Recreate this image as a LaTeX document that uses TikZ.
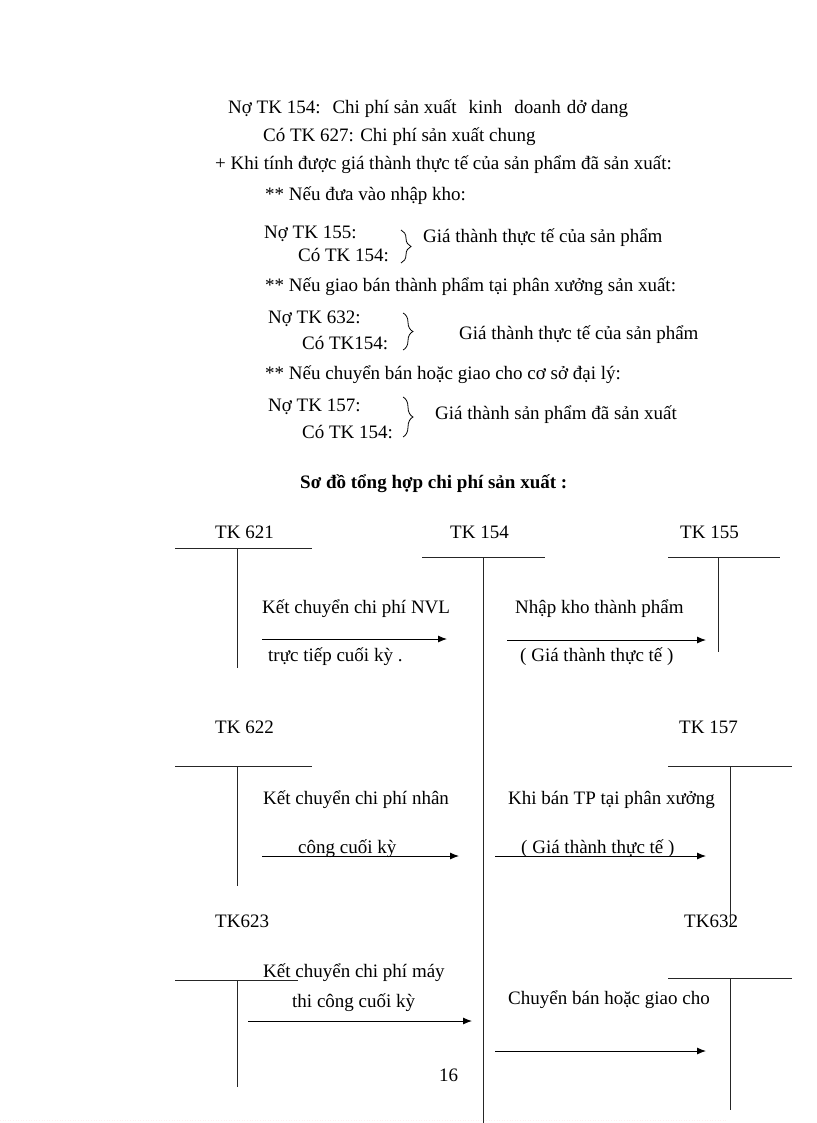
\documentclass[tikz,border=0pt]{standalone}
\usepackage{fontspec}
\setmainfont{Liberation Serif}
\usetikzlibrary{arrows.meta,decorations.pathreplacing}
\tikzstyle{txt}=[anchor=base west, inner sep=0pt, font=\fontsize{19}{22}\selectfont]
\tikzstyle{tline}=[draw=black!85, line width=0.9pt]
\tikzstyle{flow}=[draw=black, line width=0.9pt, -{Latex[length=9pt,width=7pt]}]
\tikzstyle{brc}=[draw=black, line width=0.8pt, decorate, decoration={brace,amplitude=10pt,aspect=0.5}]

\begin{document}
\begin{tikzpicture}[x=1pt,y=-1pt]
\useasboundingbox (0,0) rectangle (816,1123);
% dinh khoan
\node[txt](l1) at (228,114) {Nợ TK 154:\hspace{12pt}Chi phí sản xuất\hspace{12pt}kinh\hspace{12pt}doanh\hspace{6pt}dở dang};
\node[txt](l2) at (263,142) {Có TK 627: Chi phí sản xuất chung};
\node[txt](l3) at (215,170) {+ Khi tính được giá thành thực tế của sản phẩm đã sản xuất:};
\node[txt](l4) at (265,201) {** Nếu đưa vào nhập kho:};
\node[txt](no155) at (264,239) {Nợ TK 155:};
\node[txt](co154a) at (298,261) {Có TK 154:};
\node[txt](gia1) at (423,243) {Giá thành thực tế của sản phẩm};
\node[txt](l7) at (265,291) {** Nếu giao bán thành phẩm tại phân xưởng sản xuất:};
\node[txt](no632) at (268,323) {Nợ TK 632:};
\node[txt](co154b) at (302,349) {Có TK154:};
\node[txt](gia2) at (459,339) {Giá thành thực tế của sản phẩm};
\node[txt](l8) at (265,379) {** Nếu chuyển bán hoặc giao cho cơ sở đại lý:};
\node[txt](no157) at (268,411) {Nợ TK 157:};
\node[txt](co154c) at (302,438) {Có TK 154:};
\node[txt](gia3) at (435,419) {Giá thành sản phẩm đã sản xuất};
\coordinate (b1t) at (401,230); \coordinate (b1b) at (401,263);
\coordinate (b2t) at (403,313); \coordinate (b2b) at (403,350);
\coordinate (b3t) at (403,397); \coordinate (b3b) at (403,437);
\draw[brc] (b1t) -- (b1b);
\draw[brc] (b2t) -- (b2b);
\draw[brc] (b3t) -- (b3b);
\node[txt, font=\fontsize{19}{22}\selectfont\bfseries](title) at (300,488) {Sơ đồ tổng hợp chi phí sản xuất :};

% tai khoan chu T
\node[txt](tk621) at (215,538) {TK 621};
\node[txt](tk154) at (450,538) {TK 154};
\node[txt](tk155) at (680,538) {TK 155};
\node[txt](tk622) at (215,733) {TK 622};
\node[txt](tk157) at (679,733) {TK 157};
\node[txt](tk623) at (215,927) {TK623};
\node[txt](tk632) at (684,927) {TK632};
\draw[tline] (175,548) -- (312,548) (237,548) -- (237,668);
\draw[tline] (422,557) -- (545,557) (483,557) -- (483,1123);
\draw[tline] (668,557) -- (780,557) (718,557) -- (718,652);
\draw[tline] (175,766) -- (312,766) (237,766) -- (237,886);
\draw[tline] (668,766) -- (792,766) (730,766) -- (730,925);
\draw[tline] (175,980) -- (298,980) (237,980) -- (237,1087);
\draw[tline] (668,978) -- (792,978) (730,978) -- (730,1110);

% but toan ket chuyen
\node[txt](nvl) at (262,613) {Kết chuyển chi phí NVL};
\node[txt](nvl2) at (268,661) {trực tiếp cuối kỳ .};
\node[txt](nhap) at (515,613) {Nhập kho thành phẩm};
\node[txt](nhap2) at (520,661) {( Giá thành thực tế )};
\node[txt](nc) at (263,804) {Kết chuyển chi phí nhân};
\node[txt](nc2) at (298,853) {công cuối kỳ};
\node[txt](ban) at (508,804) {Khi bán TP tại phân xưởng};
\node[txt](ban2) at (521,853) {( Giá thành thực tế )};
\node[txt](mtc) at (263,977) {Kết chuyển chi phí máy};
\node[txt](mtc2) at (292,1007) {thi công cuối kỳ};
\node[txt](gui) at (508,1004) {Chuyển bán hoặc giao cho};
\node[txt](page) at (439,1081) {16};
\coordinate (a1s) at (262,639); \coordinate (a1e) at (447,639);
\coordinate (a2s) at (507,640); \coordinate (a2e) at (706,640);
\coordinate (a3s) at (262,856); \coordinate (a3e) at (459,856);
\coordinate (a4s) at (495,856); \coordinate (a4e) at (706,856);
\coordinate (a5s) at (248,1021); \coordinate (a5e) at (472,1021);
\coordinate (a6s) at (495,1051); \coordinate (a6e) at (706,1051);
\draw[flow] (a1s) -- (a1e);
\draw[flow] (a2s) -- (a2e);
\draw[flow] (a3s) -- (a3e);
\draw[flow] (a4s) -- (a4e);
\draw[flow] (a5s) -- (a5e);
\draw[flow] (a6s) -- (a6e);
\draw[pink!25, dotted, line width=0.6pt] (0,1120) -- (726,1120);
\end{tikzpicture}
\end{document}
